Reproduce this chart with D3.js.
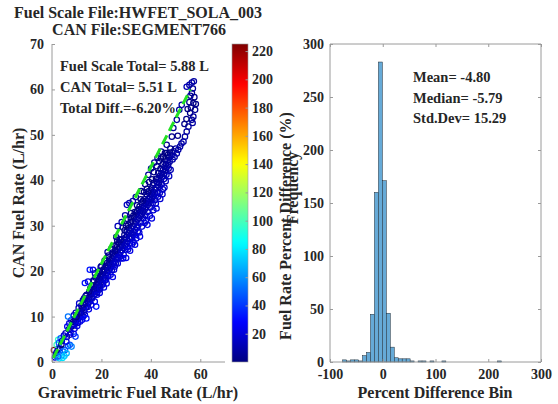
<!DOCTYPE html>
<html>
<head>
<meta charset="utf-8">
<script src="https://cdn.jsdelivr.net/npm/d3@7"></script>
<style>
  html, body { margin: 0; padding: 0; background: #fff; }
  svg { display: block; }
  text { font-family: "Liberation Serif", "Times New Roman", serif; font-weight: bold; fill: #262626; }
</style>
</head>
<body>
<svg id="chart" width="558" height="404"></svg>
<script>
// ---- data ----
const fuelScaleFile = "HWFET_SOLA_003";
const canFile = "SEGMENT766";
const summaryLines = ["Fuel Scale Total= 5.88 L", "CAN Total= 5.51 L", "Total Diff.=-6.20%"];
const statLines = ["Mean= -4.80", "Median= -5.79", "Std.Dev= 15.29"];

// [gravimetric fuel rate, CAN fuel rate] in L/hr
const scatterPoints = [
  [0.8,2.6],[1.2,1.0],[1.5,1.6],[1.8,2.0],[2.0,1.2],[2.3,2.6],[2.6,3.0],[1.9,3.8],[2.5,4.9],[3.2,3.0],
  [3.9,1.5],[4.5,2.3],[5.2,2.6],[6.5,3.5],[7.2,3.8],[3.0,0.8],[4.2,0.9],[5.0,1.3],[2.8,4.2],[3.5,5.2],
  [4.0,4.6],[4.8,5.8],[5.5,6.3],[6.0,5.5],[6.8,7.2],[7.5,6.5],[3.8,3.8],[5.8,4.5],[8.0,7.8],[8.8,6.2],
  [9.5,5.6],[6.2,7.8],[7.0,8.5],[7.8,9.2],[8.5,8.4],[5.9,1.9],[2.5,1.2],[7.9,3.4],
  [8.2,8.0],[8.6,8.9],[9.0,8.2],[9.3,9.5],[9.8,8.8],[10.1,10.2],[10.5,9.4],[10.9,10.6],[11.2,9.8],[11.6,11.2],
  [12.0,10.5],[12.3,11.8],[9.6,10.8],[10.8,11.9],[11.9,12.4],[8.8,10.3],[10.2,7.9],[12.6,10.0],[13.3,10.4],[13.9,9.6],
  [11.4,8.9],[6.5,10.0],[7.2,6.0],
  [9.1,7.3],[10.4,8.6],[11.8,10.9],[12.9,11.0],[14.4,12.1],[11.0,12.9],[12.2,9.3],[13.6,14.5],[9.9,9.9],[14.8,14.0],
  [12.8,12.6],[13.1,11.5],[13.5,12.9],[13.8,12.1],[14.2,13.5],[14.6,12.8],[15.0,14.2],[15.3,13.3],[15.7,14.8],[16.1,13.9],
  [16.4,15.4],[16.8,14.6],[13.3,17.4],[14.6,17.7],[15.3,20.3],[16.6,20.3],[17.3,13.3],[17.9,12.2],[19.3,15.2],[12.5,13.6],
  [14.0,14.8],[15.5,16.2],[16.2,16.9],[14.9,11.6],[16.9,16.0],[15.9,12.6],[13.0,14.0],
  [15.8,15.1],[16.3,14.2],[17.1,15.6],[17.7,16.4],[18.3,15.4],[18.8,17.3],[19.4,16.6],[19.8,19.1],[20.4,17.0],[20.9,20.4],
  [21.5,18.0],[21.8,21.0],[22.4,20.3],[22.7,18.9],[23.3,22.6],[23.6,21.4],[24.2,20.2],[24.8,23.7],[25.4,21.0],[15.1,15.5],
  [16.7,17.9],[18.5,18.9],[19.1,15.9],[20.3,20.1],[21.0,16.4],[23.0,23.0],[24.5,24.1],[17.4,19.5],[19.7,20.9],[22.5,24.2],
  [17.2,16.1],[17.5,15.0],[17.8,17.0],[18.1,16.0],[18.4,17.6],[18.7,16.5],[19.0,18.2],[19.2,17.0],[19.6,18.7],[19.9,17.6],
  [20.2,19.2],[20.5,18.1],[20.8,19.8],[21.1,18.6],[21.4,20.3],[21.7,19.1],[22.0,20.7],[17.6,18.6],[18.9,19.9],[20.0,21.1],
  [21.3,22.3],[19.5,16.2],[20.7,17.3],[21.9,18.2],[18.2,14.8],[22.3,21.8],[17.0,17.8],
  [22.3,19.6],[22.6,21.2],[22.9,20.1],[23.2,21.8],[23.5,20.6],[23.8,22.3],[24.1,21.1],[24.4,22.8],[24.7,21.6],[25.0,23.3],
  [25.3,22.1],[25.6,23.8],[25.9,22.6],[26.2,24.3],[26.5,23.1],[26.8,24.8],[27.1,23.6],[27.4,25.3],[27.7,24.1],[28.0,25.8],
  [22.8,23.4],[24.0,24.9],[25.2,25.6],[26.4,26.8],[23.7,19.2],[25.1,20.3],[26.6,21.7],[27.9,22.8],[24.6,18.7],[22.1,17.3],
  [26.0,27.5],[27.3,27.0],
  [25.5,24.5],[25.8,21.7],[26.3,25.3],[26.9,22.9],[27.2,26.3],[27.6,23.2],[28.1,27.0],[28.5,25.5],[28.8,22.8],[29.3,28.0],
  [29.7,24.7],[30.2,28.6],[30.6,25.3],[31.1,29.5],[31.5,26.2],[31.9,31.6],[32.3,27.3],[32.6,30.9],[33.0,28.0],[33.3,31.8],
  [33.8,27.9],[34.2,32.4],[34.7,28.7],[35.0,33.6],[26.1,25.8],[27.8,26.9],[29.4,29.0],[30.9,30.2],[32.9,32.2],[34.4,34.5],
  [28.2,30.8],[29.6,32.3],[30.3,34.6],[33.9,36.3],[31.6,24.5],[33.6,25.8],[35.6,27.6],
  [28.3,24.6],[28.6,26.4],[28.9,25.1],[29.2,26.9],[29.5,25.6],[29.8,27.4],[30.1,26.1],[30.4,27.9],[30.7,26.6],[31.0,28.4],
  [31.3,27.1],[31.6,28.9],[31.9,27.6],[32.2,29.4],[32.5,28.1],[32.8,29.9],[33.1,28.6],[33.4,30.4],[33.7,29.1],[34.0,30.9],
  [34.3,29.6],[34.6,31.4],[34.9,30.1],[28.7,29.6],[29.9,30.0],[31.3,35.0],[32.7,35.4],[26.6,29.9],[30.5,31.5],[32.0,32.8],
  [33.5,33.0],[29.0,23.6],[30.8,24.8],[32.4,25.9],[34.1,27.2],[33.0,26.4],[35.3,28.5],[30.0,22.9],[31.8,30.8],[34.5,33.2],
  [35.4,34.2],[35.9,30.7],[36.3,35.1],[36.9,31.6],[37.4,35.8],[37.8,32.3],[38.3,36.9],[38.7,33.0],[39.2,37.6],[39.8,34.0],
  [40.2,38.2],[40.7,34.9],[41.1,39.4],[41.6,35.6],[42.1,40.3],[42.6,37.3],[43.0,41.6],[43.5,38.6],[43.9,42.5],[44.4,39.1],
  [44.8,43.5],[45.3,40.3],[45.9,44.6],[46.3,41.2],[46.9,45.6],[47.2,42.6],[47.8,46.1],[36.1,37.6],[37.7,39.1],[39.0,41.2],
  [40.1,42.6],[41.4,43.9],[42.7,44.9],[44.2,46.3],[38.6,30.2],[40.4,31.6],[42.3,33.8],[44.9,38.0],[43.8,35.9],
  [35.2,31.6],[35.5,32.9],[35.8,32.1],[36.1,33.4],[36.4,32.6],[36.7,33.9],[37.0,33.1],[37.3,34.4],[37.6,33.6],[37.9,34.9],
  [38.2,34.1],[38.5,35.4],[38.8,34.6],[39.1,35.9],[39.4,35.1],[39.7,36.4],[40.0,35.6],[40.3,36.9],[40.6,36.1],[40.9,37.4],
  [41.2,36.6],[41.5,37.9],[41.8,37.1],[35.9,35.8],[37.2,37.4],[38.4,38.1],[39.3,39.6],[40.5,40.2],[41.2,41.8],[36.4,29.8],
  [38.0,31.0],[39.6,32.2],[41.0,33.4],[37.5,30.6],[42.0,34.9],[36.8,35.5],[38.9,37.3],[40.8,38.9],
  [42.2,38.4],[42.5,39.6],[42.8,38.9],[43.1,40.3],[43.4,39.5],[43.7,41.0],[44.0,40.1],[44.3,41.6],[44.6,40.8],[44.9,42.3],
  [45.2,41.4],[45.5,43.0],[45.8,42.1],[46.1,43.6],[46.4,42.8],[46.7,44.3],[47.0,43.4],[47.3,45.0],[47.6,44.1],[42.4,43.1],
  [43.3,44.2],[44.1,44.8],[45.0,45.2],[43.6,37.2],[44.7,36.9],[46.0,39.8],[45.5,38.4],[47.4,40.9],[42.9,36.4],[48.0,42.3],
  [46.4,46.0],[45.7,46.0],[46.4,47.8],
  [48.3,45.5],[48.8,44.6],[49.2,46.4],[49.6,45.1],[50.1,47.0],[50.5,45.9],[51.1,46.7],[51.8,47.4],[52.4,48.1],[53.2,48.5],
  [53.8,49.6],[54.5,50.7],[55.2,51.8],[56.6,53.3],[55.9,54.8],[57.9,55.5],[57.2,57.0],[56.6,59.2],[54.5,60.6],[55.6,61.0],
  [56.6,61.5],[57.4,61.8],[48.5,49.6],[49.1,51.5],[50.5,53.3],[51.5,55.5],[52.5,56.6],[57.2,54.0],[56.2,56.0],[57.6,58.3],
  [56.9,52.6],[55.6,57.2],[54.9,55.7],[47.9,47.0],[50.9,49.8],[57.0,60.2],[56.0,58.6],[58.2,56.8],[53.6,52.4],[54.4,53.5]
];

// fitted reference line (CAN vs gravimetric)
const fitSlope = 1.065;
const fitIntercept = 0.35;
const fitRange = [0.5, 56];

// histogram of percent differences: 40 equal bins spanning the data range
const binRange = [-76, 225];
const binCounts = [
  2, 1, 2, 2, 1, 6, 9, 45, 160, 283,
  171, 46, 14, 4, 3, 3, 3, 1, 0, 1,
  1, 0, 1, 0, 0, 1, 0, 0, 0, 0,
  0, 0, 0, 0, 0, 0, 0, 0, 0, 1
];

const rateTicks = [0, 10, 20, 30, 40, 50, 60, 70];
const gravTicks = [0, 20, 40, 60];
const colorTicks = [20, 40, 60, 80, 100, 120, 140, 160, 180, 200, 220];
const freqTicks = [0, 50, 100, 150, 200, 250, 300];
const binTicks = [-100, 0, 100, 200, 300];

// ---- layout ----
const svg = d3.select("#chart");
const axisColor = "#9a9a9a";
const tickLen = 3;
const scatterBox = { left: 52, right: 225, top: 44, bottom: 362 };
const barBox = { left: 232, right: 248 };
const histBox = { left: 330, right: 541, top: 44, bottom: 362 };
const plainNum = t => String(t);   // ASCII hyphen for negatives

// MATLAB-style jet colormap
function jet(t) {
  const c = v => Math.max(0, Math.min(1, v));
  return d3.rgb(255 * c(1.5 - Math.abs(4 * t - 3)),
                255 * c(1.5 - Math.abs(4 * t - 2)),
                255 * c(1.5 - Math.abs(4 * t - 1))).formatHex();
}

const pctDiff = d => Math.abs((d[1] - d[0]) / d[0]) * 100;
const colorDomain = d3.extent(scatterPoints, pctDiff);
const colorNorm = d3.scaleLinear().domain(colorDomain).range([0, 1]).clamp(true);

// ---- scatter panel ----
const x = d3.scaleLinear().domain([0, 70]).range([scatterBox.left, scatterBox.right]);
const y = d3.scaleLinear().domain([0, 70]).range([scatterBox.bottom, scatterBox.top]);

const gS = svg.append("g");
gS.selectAll("circle.pt").data(scatterPoints).join("circle")
  .attr("class", "pt")
  .attr("cx", d => x(d[0])).attr("cy", d => y(d[1]))
  .attr("r", 2.7)
  .attr("fill", "none")
  .attr("stroke", d => jet(colorNorm(pctDiff(d))))
  .attr("stroke-width", 1.25);

gS.append("line")
  .attr("x1", x(fitRange[0])).attr("y1", y(fitSlope * fitRange[0] + fitIntercept))
  .attr("x2", x(fitRange[1])).attr("y2", y(fitSlope * fitRange[1] + fitIntercept))
  .attr("stroke", "#22e022").attr("stroke-width", 3)
  .attr("stroke-dasharray", "10,5");

// axes (left + bottom only)
function styleAxis(g) {
  g.select(".domain").attr("stroke", axisColor);
  g.selectAll(".tick line").attr("stroke", axisColor);
  g.selectAll(".tick text").attr("fill", "#262626").style("font-size", "14px")
    .style("font-family", '"Liberation Serif","Times New Roman",serif').style("font-weight", "bold");
}
gS.append("g").attr("transform", `translate(${scatterBox.left},0)`)
  .call(d3.axisLeft(y).tickValues(rateTicks).tickFormat(plainNum).tickSize(-tickLen).tickPadding(8))
  .call(g => g.select(".domain").attr("d", `M0,${scatterBox.top}V${scatterBox.bottom}`)).call(styleAxis);
gS.append("g").attr("transform", `translate(0,${scatterBox.bottom})`)
  .call(d3.axisBottom(x).tickValues(gravTicks).tickFormat(plainNum).tickSize(-tickLen).tickPadding(7))
  .call(g => g.select(".domain").attr("d", `M${scatterBox.left},0H${scatterBox.right}`)).call(styleAxis);

svg.append("text").attr("x", 138).attr("y", 398).attr("text-anchor", "middle")
  .style("font-size", "16px").text("Gravimetric Fuel Rate (L/hr)");
svg.append("text").attr("transform", `translate(24,203) rotate(-90)`).attr("text-anchor", "middle")
  .style("font-size", "16px").text("CAN Fuel Rate (L/hr)");

svg.append("text").attr("x", 138).attr("y", 18).attr("text-anchor", "middle")
  .style("font-size", "16px").text(`Fuel Scale File:${fuelScaleFile}`);
svg.append("text").attr("x", 139).attr("y", 35).attr("text-anchor", "middle")
  .style("font-size", "16px").text(`CAN File:${canFile}`);

svg.selectAll("text.summary").data(summaryLines).join("text")
  .attr("class", "summary")
  .attr("x", 60).attr("y", (d, i) => 71 + i * 21)
  .style("font-size", "14.5px").text(d => d);

// ---- colorbar ----
const cbar = d3.scaleLinear().domain(colorDomain).range([scatterBox.bottom, scatterBox.top]);
const grad = svg.append("defs").append("linearGradient").attr("id", "jetGrad")
  .attr("x1", 0).attr("y1", 1).attr("x2", 0).attr("y2", 0);
grad.selectAll("stop").data(d3.range(0, 64)).join("stop")
  .attr("offset", d => d / 63).attr("stop-color", d => jet(d / 63));
svg.append("rect").attr("x", barBox.left).attr("y", scatterBox.top)
  .attr("width", barBox.right - barBox.left).attr("height", scatterBox.bottom - scatterBox.top)
  .attr("fill", "url(#jetGrad)").attr("stroke", axisColor).attr("stroke-width", 0.6);
svg.append("g").attr("transform", `translate(${barBox.right},0)`)
  .call(d3.axisRight(cbar).tickValues(colorTicks).tickFormat(plainNum).tickSize(-2.5).tickPadding(4))
  .call(g => g.select(".domain").remove())
  .call(styleAxis);
svg.append("text").attr("transform", `translate(291,226) rotate(-90)`).attr("text-anchor", "middle")
  .style("font-size", "16px").text("Fuel Rate Percent Difference (%)");

// ---- histogram panel ----
const hx = d3.scaleLinear().domain([-100, 300]).range([histBox.left, histBox.right]);
const hy = d3.scaleLinear().domain([0, 300]).range([histBox.bottom, histBox.top]);
const binWidth = (binRange[1] - binRange[0]) / binCounts.length;
const bins = binCounts.map((c, i) => ({ x0: binRange[0] + i * binWidth, x1: binRange[0] + (i + 1) * binWidth, count: c }));

const gH = svg.append("g");
gH.selectAll("rect.bar").data(bins.filter(b => b.count > 0)).join("rect")
  .attr("class", "bar")
  .attr("x", d => hx(d.x0)).attr("width", d => hx(d.x1) - hx(d.x0))
  .attr("y", d => hy(d.count)).attr("height", d => hy(0) - hy(d.count))
  .attr("fill", "#66aad7").attr("stroke", "#1c2833").attr("stroke-width", 0.5);

gH.append("g").attr("transform", `translate(${histBox.left},0)`)
  .call(d3.axisLeft(hy).tickValues(freqTicks).tickFormat(plainNum).tickSize(-tickLen).tickPadding(6))
  .call(g => g.select(".domain").attr("d", `M0,${histBox.top}V${histBox.bottom}`)).call(styleAxis);
gH.append("g").attr("transform", `translate(0,${histBox.bottom})`)
  .call(d3.axisBottom(hx).tickValues(binTicks).tickFormat(plainNum).tickSize(-tickLen).tickPadding(7))
  .call(g => g.select(".domain").attr("d", `M${histBox.left},0H${histBox.right}`)).call(styleAxis);
gH.append("g").attr("transform", `translate(${histBox.right},0)`)
  .call(d3.axisRight(hy).tickValues(freqTicks).tickSize(-tickLen).tickFormat(""))
  .call(g => g.select(".domain").attr("d", `M0,${histBox.top}V${histBox.bottom}`)).call(styleAxis);
gH.append("g").attr("transform", `translate(0,${histBox.top})`)
  .call(d3.axisTop(hx).tickValues(binTicks).tickSize(-tickLen).tickFormat(""))
  .call(g => g.select(".domain").attr("d", `M${histBox.left},0H${histBox.right}`)).call(styleAxis);

svg.append("text").attr("x", 435).attr("y", 398).attr("text-anchor", "middle")
  .style("font-size", "16px").text("Percent Difference Bin");
svg.append("text").attr("transform", `translate(298,188) rotate(-90)`).attr("text-anchor", "middle")
  .style("font-size", "16px").text("Frequency");

svg.selectAll("text.stat").data(statLines).join("text")
  .attr("class", "stat")
  .attr("x", 413).attr("y", (d, i) => 82 + i * 20.7)
  .style("font-size", "14.5px").text(d => d);
</script>
</body>
</html>
